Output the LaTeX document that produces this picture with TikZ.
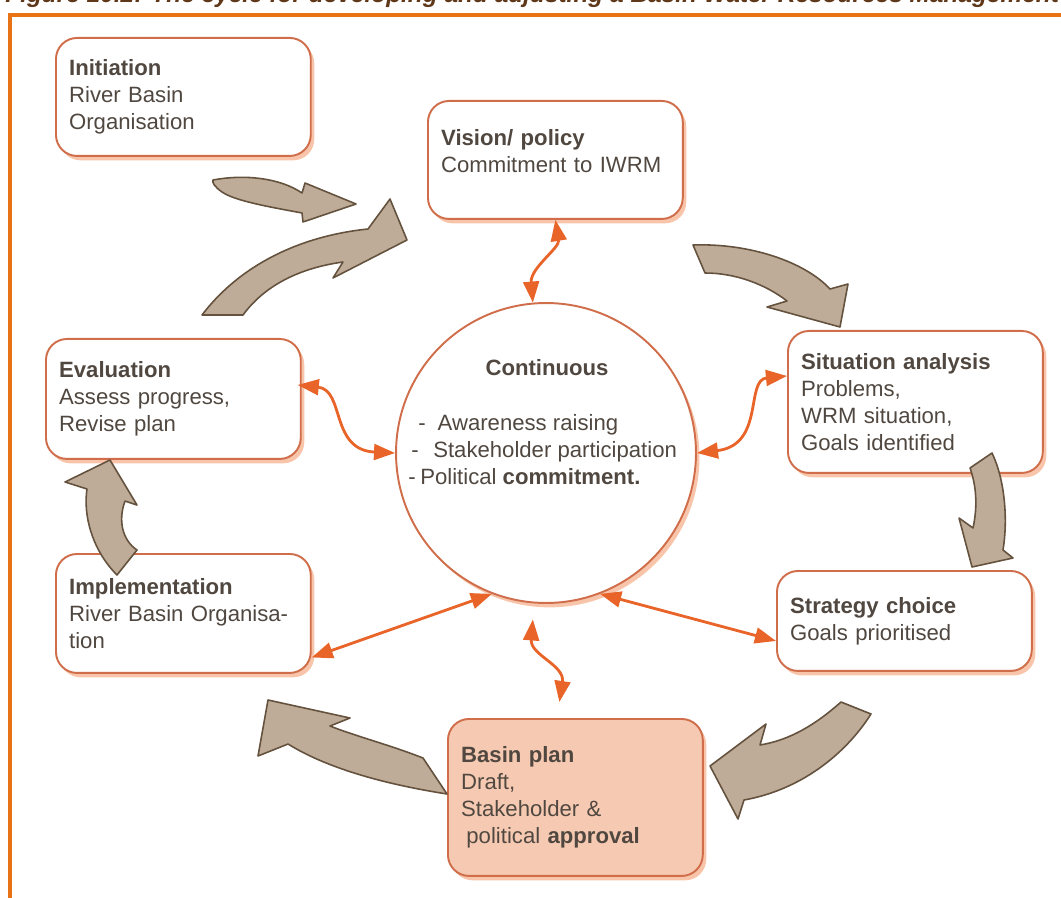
\documentclass[tikz,border=0pt]{standalone}
\usepackage{fontspec}
\setmainfont{Liberation Sans}
\usetikzlibrary{arrows.meta,calc,shadows}
\definecolor{framec}{RGB}{232,114,22}
\definecolor{titlec}{RGB}{95,55,25}
\definecolor{boxc}{RGB}{208,110,75}
\definecolor{glowc}{RGB}{242,150,100}
\definecolor{txtc}{RGB}{80,72,64}
\definecolor{planc}{RGB}{246,202,178}
\definecolor{linkc}{RGB}{232,100,40}
\definecolor{arrf}{RGB}{190,172,152}
\definecolor{arrd}{RGB}{100,82,62}

\begin{document}
\begin{tikzpicture}[x=0.02cm,y=-0.02cm,
  font=\fontsize{12.6}{15.4}\selectfont,text=txtc,
  box/.style={draw=boxc,line width=1.1pt,rounded corners=12pt,fill=white,
    anchor=north west,text width=4.57cm,inner xsep=7.5pt,align=left,
    drop shadow={shadow xshift=2pt,shadow yshift=-2.5pt,fill=glowc,opacity=.55}},
  link/.style={draw=linkc,line width=1.6pt,
    {Triangle[length=12pt,width=9pt]}-{Triangle[length=12pt,width=9pt]}},
  cyc/.style={fill=arrf,draw=arrd,line width=0.9pt,line join=round}]
\useasboundingbox (0,0) rectangle (1061,898);
% --- frame and caption ---
\draw[framec,line width=2.5pt] (10,900) -- (10,15) -- (1065,15);
\node[anchor=base west,inner sep=0,text=titlec,
  font=\fontsize{13.9}{16}\selectfont\bfseries\itshape] (title) at (5,3)
  {Figure 10.2: The cycle for developing and adjusting a Basin Water Resources Management};
% --- centre ---
\node[circle,draw=boxc,line width=1.1pt,fill=white,minimum size=6cm,
  drop shadow={shadow xshift=2pt,shadow yshift=-2.5pt,fill=glowc,opacity=.55}] (cont) at (546,453) {};
\node (conthd) at (547,368) {\textbf{Continuous}};
\node[anchor=west,align=left,inner sep=0] (contlist) at (408,450)
  {\hspace*{5.7pt}-\hspace{6.8pt}Awareness raising\\
   \hspace*{1.7pt}-\hspace{8.3pt}Stakeholder participation\\
   -\hspace{2.6pt}Political \textbf{commitment.}};
% --- steps ---
\node[box,minimum height=2.36cm] (init) at (55,37) {\textbf{Initiation}\\River Basin\\Organisation};
\node[box,minimum height=2.36cm] (vision) at (427,100) {\textbf{Vision/ policy}\\Commitment to IWRM\\[-5pt]\mbox{}};
\node[box,minimum height=2.84cm] (sit) at (787,330) {\textbf{Situation analysis}\\Problems,\\WRM situation,\\Goals identified};
\node[box,minimum height=2cm] (strat) at (776,570) {\textbf{Strategy choice}\\Goals prioritised};
\node[box,fill=planc,minimum height=3.14cm] (plan) at (447,718) {\textbf{Basin plan}\\Draft,\\Stakeholder \&\\\hspace*{3pt}political \textbf{approval}};
\node[box,minimum height=2.38cm] (impl) at (55,553) {\textbf{Implementation}\\River Basin Organisa-\\tion};
\node[box,minimum height=2.4cm] (eval) at (45,338) {\textbf{Evaluation}\\Assess progress,\\Revise plan};
% --- links to the centre ---
\draw[link] (vision.south) .. controls (560,248) and (530,268) .. (cont.95);
\draw[link] ($(sit.west)+(0,-26)$) .. controls (745,380) and (765,445) .. (cont.east);
\draw[link] ($(eval.east)+(-4,-14)$) .. controls (345,390) and (330,450) .. (cont.west);
\draw[link] ($(cont.265)+(0,16)$) .. controls (530,655) and (565,665) .. ($(plan.north)+(-16,-16)$);
\draw[link] (cont.249) -- ($(impl.east)+(0,44)$);
\draw[link] (cont.291) -- ($(strat.west)+(0,20)$);
% --- cycle arrows ---
\draw[cyc] (213,180) .. controls (245,174) and (280,178) .. (302,193)
  -- (305,183) -- (356,204) -- (303,222) -- (302,213) .. controls (270,207) and (235,201) .. (222,192)
  .. controls (215,187) and (212,183) .. (213,180) -- cycle;
\draw[cyc] (202,315) .. controls (240,265) and (300,236) .. (368,229) -- (390,199) -- (407,240) -- (333,278)
  -- (343,262) .. controls (300,268) and (265,285) .. (243,315) -- cycle;
\draw[cyc] (693,245) .. controls (750,243) and (805,262) .. (830,289) -- (848,284) -- (840,327) -- (767,307)
  -- (787,301) .. controls (765,284) and (735,273) .. (705,273) -- cycle;
\draw[cyc] (992,453) .. controls (1005,480) and (1008,520) .. (1003,550) -- (1013,558) -- (972,567) -- (959,518)
  -- (973,528) .. controls (978,505) and (976,485) .. (970,468) -- cycle;
\draw[cyc] (841,702) .. controls (815,725) and (790,740) .. (760,745) -- (766,724) -- (710,766) -- (738,819)
  -- (744,800) .. controls (800,790) and (845,755) .. (871,714) -- cycle;
\draw[cyc] (423,758) .. controls (390,745) and (355,736) .. (330,726) -- (350,718) -- (268,700) -- (258,756)
  -- (288,744) .. controls (330,770) and (390,785) .. (447,794) -- cycle;
\draw[cyc] (117,575) .. controls (92,550) and (83,515) .. (87,489) -- (65,482) -- (110,460) -- (137,505)
  -- (125,501) .. controls (118,520) and (122,540) .. (137,550) -- cycle;
\end{tikzpicture}
\end{document}
